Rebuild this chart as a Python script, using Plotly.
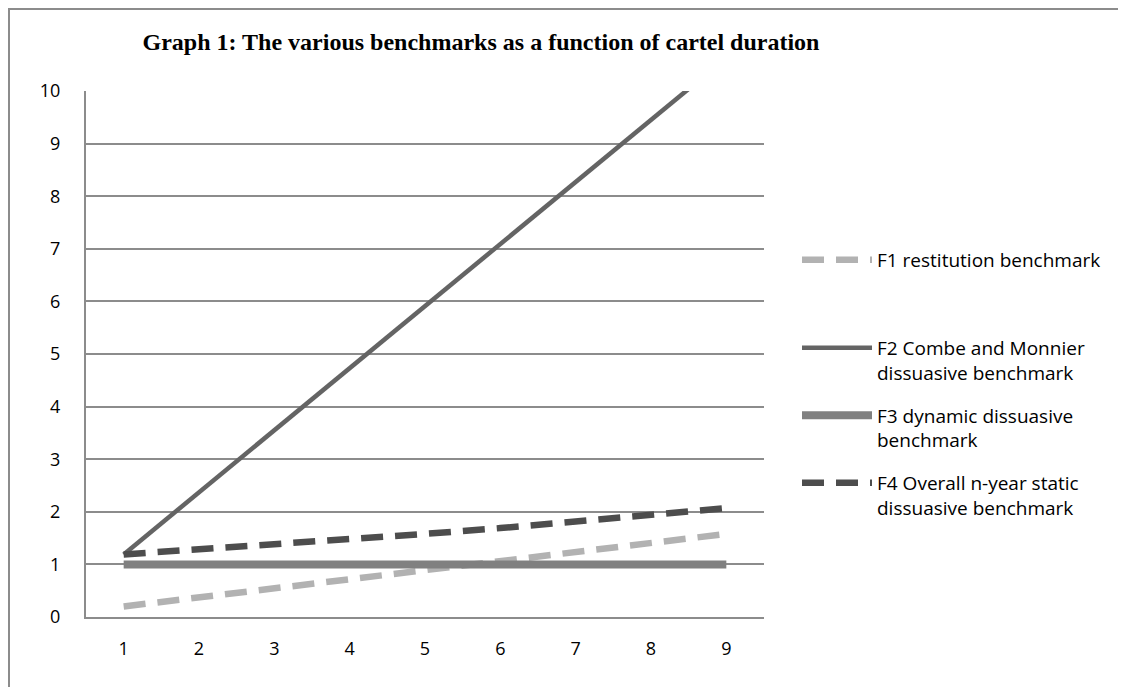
import plotly.graph_objects as go

years = [1, 2, 3, 4, 5, 6, 7, 8, 9]
f1_restitution = [0.20, 0.37, 0.55, 0.72, 0.89, 1.06, 1.24, 1.41, 1.58]
f2_combe_monnier = [1.19, 2.37, 3.55, 4.73, 5.91, 7.09, 8.27, 9.45, 10.63]
f3_dynamic = [1.0, 1.0, 1.0, 1.0, 1.0, 1.0, 1.0, 1.0, 1.0]
f4_static = [1.19, 1.28, 1.37, 1.47, 1.58, 1.69, 1.81, 1.94, 2.07]

names = [
    "F1 restitution benchmark",
    "F2 Combe and Monnier<br>dissuasive benchmark",
    "F3 dynamic dissuasive<br>benchmark",
    "F4 Overall n-year static<br>dissuasive benchmark",
]

# page has an 8px body margin; figure coordinates = page coordinates - 8
OFF = 8
W, H = 1126, 687
L, T = 86 - OFF, 91 - OFF
R = W - (764 - OFF)
B = H - (617 - OFF)

fig = go.Figure()
fig.add_trace(go.Scatter(x=years, y=f1_restitution, mode="lines", name=names[0],
                         legend="legend", legendgroup="f1",
                         line=dict(color="#b2b2b2", width=6.5, dash="22px,12px")))
fig.add_trace(go.Scatter(x=years, y=f2_combe_monnier, mode="lines", name=names[1],
                         legend="legend2", legendgroup="f2",
                         line=dict(color="#646464", width=4.5)))
fig.add_trace(go.Scatter(x=years, y=f3_dynamic, mode="lines", name=names[2],
                         legend="legend2", legendgroup="f3",
                         line=dict(color="#808080", width=8)))
fig.add_trace(go.Scatter(x=years, y=f4_static, mode="lines", name=names[3],
                         legend="legend2", legendgroup="f4",
                         line=dict(color="#4d4d4d", width=6.5, dash="22px,12px")))

pw = W - L - R
ph = H - T - B

def px_x(p):
    return (p - OFF - L) / pw

def px_y(p):
    return (H - B - (p - OFF)) / ph

fig.add_shape(type="rect", xref="paper", yref="paper",
              x0=px_x(9), x1=px_x(1150), y0=px_y(9), y1=px_y(720),
              line=dict(color="#8c8c8c", width=2), fillcolor="rgba(0,0,0,0)",
              layer="below")

leg_font = dict(family="Open Sans", size=19, color="black")
leg_common = dict(xanchor="left", yanchor="top", font=leg_font, valign="top",
                  itemwidth=70, bgcolor="rgba(0,0,0,0)", tracegroupgap=15,
                  groupclick="toggleitem")

fig.update_layout(
    width=W, height=H,
    margin=dict(l=L, r=R, t=T, b=B),
    paper_bgcolor="white", plot_bgcolor="white",
    title=dict(text="<b>Graph 1: The various benchmarks as a function of cartel duration</b>",
               x=(481 - OFF) / W, xanchor="center", y=1 - (42 - OFF) / H, yanchor="middle",
               font=dict(family="Liberation Serif", size=24, color="black")),
    font=dict(family="Open Sans", size=18, color="black"),
    showlegend=True,
    legend=dict(x=px_x(797), y=px_y(241), **leg_common),
    legend2=dict(x=px_x(797), y=px_y(329), **leg_common),
)
fig.update_xaxes(range=[0.5, 9.5], tickvals=years, ticktext=[str(v) for v in years],
                 showgrid=False, zeroline=False, showline=True, linecolor="#8c8c8c",
                 linewidth=2, ticks="", ticklabelstandoff=14,
                 tickfont=dict(family="Open Sans", size=18))
fig.update_yaxes(range=[0, 10], dtick=1, showgrid=True, gridcolor="#8c8c8c",
                 gridwidth=1.5, zeroline=False, showline=True, linecolor="#8c8c8c",
                 linewidth=2, ticks="", ticklabelstandoff=20,
                 tickfont=dict(family="Open Sans", size=18))

fig.write_html("out.html")
